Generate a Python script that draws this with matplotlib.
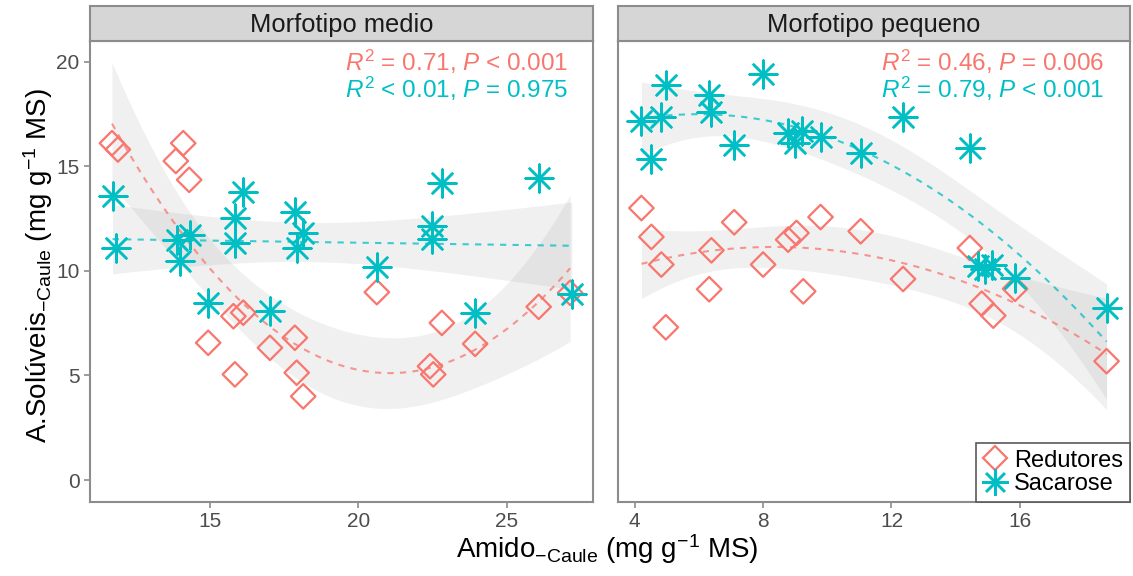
import numpy as np
import matplotlib
matplotlib.use('Agg')
import matplotlib.pyplot as plt
from matplotlib.lines import Line2D

plt.rcParams['font.family'] = ['Liberation Sans', 'DejaVu Sans']
plt.rcParams['mathtext.fontset'] = 'custom'
plt.rcParams['mathtext.rm'] = 'Liberation Sans'
plt.rcParams['mathtext.it'] = 'Liberation Sans:italic'

# Morfotipo medio
medio_red_x = [11.7, 11.9, 14.1, 13.85, 14.3, 14.94, 15.79, 16.12, 15.84, 17.02,
               17.86, 17.92, 18.14, 20.62, 22.81, 22.41, 22.52, 23.93, 26.07, 27.13]
medio_red_y = [16.1, 15.8, 16.1, 15.25, 14.35, 6.56, 7.83, 8.0, 5.05, 6.32,
               6.8, 5.13, 4.0, 8.98, 7.51, 5.44, 5.05, 6.51, 8.28, 8.95]
medio_sac_x = [11.72, 11.83, 13.88, 14.33, 13.99, 16.12, 15.84, 15.84, 17.86, 18.14,
               17.92, 20.62, 22.81, 22.47, 22.47, 26.07, 14.94, 17.02, 23.93, 27.19]
medio_sac_y = [13.58, 11.09, 11.49, 11.73, 10.45, 13.75, 12.52, 11.33, 12.79, 11.81,
               11.09, 10.17, 14.22, 12.16, 11.52, 14.46, 8.47, 8.07, 7.99, 8.91]

# Morfotipo pequeno
peq_red_x = [4.21, 4.52, 4.83, 6.32, 4.97, 6.39, 7.10, 8.0, 8.78, 9.04,
             9.25, 9.79, 11.04, 12.36, 14.44, 14.81, 15.17, 15.85, 18.7]
peq_red_y = [13.0, 11.62, 10.30, 9.12, 7.30, 10.98, 12.32, 10.30, 11.49, 11.81,
             9.02, 12.57, 11.89, 9.61, 11.09, 8.43, 7.86, 9.14, 5.68]
peq_sac_x = [4.21, 4.83, 4.52, 4.99, 6.32, 6.39, 7.10, 8.0, 8.78, 9.2,
             8.99, 9.79, 11.04, 12.36, 14.44, 14.7, 14.9, 15.12, 15.85, 18.7]
peq_sac_y = [17.18, 17.35, 15.34, 18.89, 18.41, 17.61, 16.02, 19.41, 16.58, 16.66,
             16.10, 16.42, 15.63, 17.33, 15.87, 10.25, 10.1, 10.3, 9.66, 8.23]

panels = ['Morfotipo medio', 'Morfotipo pequeno']
stats_red = [r'$R^{2}$ = 0.71, $P$ < 0.001', r'$R^{2}$ = 0.46, $P$ = 0.006']
stats_sac = [r'$R^{2}$ < 0.01, $P$ = 0.975', r'$R^{2}$ = 0.79, $P$ < 0.001']

RED = '#F8766D'
CYAN = '#00BFC4'


def t975(df):
    z = 1.959964
    return z + (z**3 + z) / (4 * df) + (5 * z**5 + 16 * z**3 + 3 * z) / (96 * df**2)


def smooth(ax, x, y, deg, color):
    # polynomial least squares with 95% confidence band
    x = np.asarray(x); y = np.asarray(y)
    X = np.vander(x, deg + 1)
    beta, *_ = np.linalg.lstsq(X, y, rcond=None)
    resid = y - X @ beta
    df = len(x) - (deg + 1)
    s2 = resid @ resid / df
    cov = np.linalg.inv(X.T @ X)
    xs = np.linspace(x.min(), x.max(), 200)
    Xs = np.vander(xs, deg + 1)
    fit = Xs @ beta
    se = np.sqrt(s2 * np.einsum('ij,jk,ik->i', Xs, cov, Xs))
    t = t975(df)
    ax.fill_between(xs, fit - t * se, fit + t * se, color='#999999', alpha=0.14, lw=0, zorder=1)
    ax.plot(xs, fit, ls=(0, (3, 3)), color=color, lw=1.5, alpha=0.75, zorder=2)


fig = plt.figure(figsize=(11.33, 5.76), dpi=100)
W, H = 1133, 576
boxes = [(90, 593, 10.96, 27.9, [15, 20, 25]),
         (618, 1130, 3.48, 19.43, [4, 8, 12, 16])]
data = [(medio_red_x, medio_red_y, medio_sac_x, medio_sac_y, 2, 1),
        (peq_red_x, peq_red_y, peq_sac_x, peq_sac_y, 2, 2)]
top, bot, strip_top = 40.7, 502, 6

star = (8, 2, 0)
for i, ((x0, x1, xl, xr, xt), (rx, ry, sx, sy, dr, ds)) in enumerate(zip(boxes, data)):
    ax = fig.add_axes([x0 / W, 1 - bot / H, (x1 - x0) / W, (bot - top) / H])
    smooth(ax, rx, ry, dr, RED)
    smooth(ax, sx, sy, ds, CYAN)
    ax.scatter(rx, ry, marker='D', s=12.5**2, facecolors='none', edgecolors=RED, linewidths=1.6, zorder=3)
    ax.scatter(sx, sy, marker=star, s=20**2, color=CYAN, linewidths=1.8, zorder=3)
    ax.set_xlim(xl, xr)
    ax.set_ylim(-1.05, 21.0)
    ax.set_xticks(xt)
    ax.set_yticks([0, 5, 10, 15, 20])
    ax.tick_params(colors='#8c8c8c', labelcolor='#4d4d4d', labelsize=15, length=4, width=1.2)
    if i == 1:
        ax.tick_params(axis='y', left=False, labelleft=False)
    for sp in ax.spines.values():
        sp.set_color('#8c8c8c')
        sp.set_linewidth(1.5)
    ax.text(0.95, 0.934, stats_red[i], color=RED, fontsize=17.5, ha='right', va='baseline',
            transform=ax.transAxes)
    ax.text(0.95, 0.876, stats_sac[i], color=CYAN, fontsize=17.5, ha='right', va='baseline',
            transform=ax.transAxes)

    # facet strip
    sax = fig.add_axes([x0 / W, 1 - top / H, (x1 - x0) / W, (top - strip_top) / H])
    sax.set_facecolor('#d6d6d6')
    sax.set_xticks([]); sax.set_yticks([])
    for sp in sax.spines.values():
        sp.set_color('#8c8c8c')
        sp.set_linewidth(1.5)
    sax.text(0.5, 0.45, panels[i], ha='center', va='center', fontsize=18.4, color='#1a1a1a',
             transform=sax.transAxes)

    if i == 1:
        handles = [Line2D([], [], marker='D', ls='none', markersize=12.5, markerfacecolor='none',
                          markeredgecolor=RED, markeredgewidth=1.6),
                   Line2D([], [], marker=star, ls='none', markersize=19, color=CYAN,
                          markeredgewidth=1.8)]
        leg = ax.legend(handles, ['Redutores', 'Sacarose'], loc='lower right', borderaxespad=0,
                        fancybox=False, fontsize=17, handlelength=1.0, handletextpad=0.3,
                        labelspacing=0.05, borderpad=0.3, framealpha=1)
        leg.get_frame().set_edgecolor('#595959')
        leg.get_frame().set_linewidth(1.2)

fig.text(607 / W, 1 - 549 / H, r'Amido$_{\mathregular{-Caule}}$ (mg g$^{\mathregular{-1}}$ MS)',
         ha='center', va='center', fontsize=20)
fig.text(38 / W, 1 - 266 / H, r'A.Solúveis$_{\mathregular{-Caule}}$ (mg g$^{\mathregular{-1}}$ MS)',
         ha='center', va='center', fontsize=20, rotation=90)

fig.savefig('out.png', dpi=100)
